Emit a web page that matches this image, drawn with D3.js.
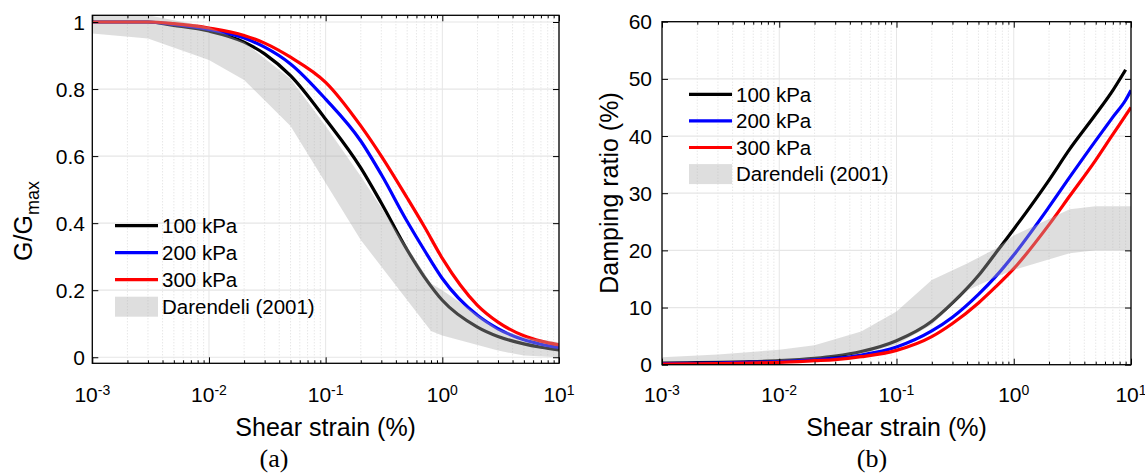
<!DOCTYPE html>
<html><head><meta charset="utf-8">
<script src="https://cdn.jsdelivr.net/npm/d3@7"></script>
<style>
body{margin:0;background:#fff}
svg{display:block}
text{font-family:"Liberation Sans",Arial,Helvetica,sans-serif;fill:#000}
</style>
</head><body>
<svg id="chart" width="1145" height="476"></svg>
<script>
// ---------- data ----------
const strain = [0.001,0.002,0.003,0.005,0.01,0.02,0.03,0.05,0.1,0.2,0.3,0.5,0.7,1,2,3,5,7,10];

// (a) G/Gmax
const gg100 = [1,1,1,0.99,0.973,0.94,0.905,0.84,0.71,0.565,0.46,0.32,0.24,0.17,0.09,0.062,0.04,0.03,0.022];
const gg200 = [1,1,1,0.993,0.978,0.952,0.925,0.875,0.77,0.645,0.545,0.405,0.32,0.235,0.125,0.085,0.052,0.039,0.029];
const gg300 = [1,1,1,0.995,0.982,0.96,0.937,0.895,0.82,0.69,0.60,0.475,0.39,0.295,0.155,0.105,0.064,0.048,0.037];
const bandStrainG = [0.001,0.003,0.01,0.02,0.05,0.1,0.2,0.8,1,3,5,10];
const ggDarLow  = [0.966,0.951,0.887,0.827,0.69,0.52,0.35,0.078,0.065,0.02,0.005,0.0];
const ggDarHigh = [1.03,1.02,0.985,0.94,0.83,0.69,0.54,0.22,0.2,0.085,0.06,0.045];

// (b) Damping ratio (%)
const strainD = [0.001,0.002,0.003,0.005,0.01,0.02,0.03,0.05,0.1,0.2,0.3,0.5,0.7,1,2,3,5,7,9,10];
const d100 = [0.3,0.35,0.4,0.5,0.7,1.1,1.5,2.3,4.2,7.6,10.8,15.6,19.5,23.7,32.3,37.7,43.8,48,51.6,null];
const d200 = [0.2,0.25,0.3,0.4,0.55,0.85,1.1,1.7,3.1,5.9,8.3,12.3,15.4,19.2,27.6,32.8,39.2,43.3,46.3,48];
const d300 = [0.1,0.15,0.2,0.3,0.4,0.7,0.9,1.4,2.5,4.9,7.2,10.8,13.6,16.8,24.5,29.5,35.8,40.3,43.6,45];
const bandStrainD = [0.001,0.003,0.01,0.02,0.05,0.1,0.2,0.4,0.7,1,3,5,10];
const dDarLow  = [0.6,0.65,0.8,1.1,1.9,3.5,7.0,13.0,15.3,16.6,19.5,20,20];
const dDarHigh = [1.3,1.8,2.6,3.4,5.8,9.3,14.8,17.7,20.3,22.6,27.2,27.7,27.7];

const seriesNames = ["100 kPa","200 kPa","300 kPa"];
const seriesColors = ["#000000","#0000ff","#ff0000"];
const bandName = "Darendeli (2001)";

const xMajor = [1e-3,1e-2,1e-1,1,10];
const xMajorExp = ["-3","-2","-1","0","1"];
const ggTicks = [0,0.2,0.4,0.6,0.8,1];
const ggTickLabels = ["0","0.2","0.4","0.6","0.8","1"];
const dTicks = [0,10,20,30,40,50,60];
const dTickLabels = ["0","10","20","30","40","50","60"];

// ---------- drawing ----------
const svg = d3.select("#chart");
const xMinor = [];
for (let e = -3; e < 1; e++) for (let m = 2; m <= 9; m++) xMinor.push(m * Math.pow(10, e));

function panel(cfg) {
  const g = svg.append("g");
  const x = d3.scaleLog().domain([1e-3, 10]).range([cfg.left, cfg.right]);
  const y = d3.scaleLinear().domain(cfg.yDomain).range([cfg.bottom, cfg.top]);
  const clipId = "clip" + cfg.id;
  svg.append("clipPath").attr("id", clipId).append("rect")
    .attr("x", cfg.left).attr("y", cfg.top)
    .attr("width", cfg.right - cfg.left).attr("height", cfg.bottom - cfg.top);

  // grid
  const grid = g.append("g");
  grid.selectAll("line.minor").data(xMinor).join("line")
    .attr("x1", d => x(d)).attr("x2", d => x(d))
    .attr("y1", cfg.top).attr("y2", cfg.bottom)
    .attr("stroke", "#d4d4d4").attr("stroke-width", 0.8).attr("stroke-dasharray", "1,2");
  grid.selectAll("line.majx").data(xMajor).join("line")
    .attr("x1", d => x(d)).attr("x2", d => x(d))
    .attr("y1", cfg.top).attr("y2", cfg.bottom)
    .attr("stroke", "#e6e6e6").attr("stroke-width", 1);
  grid.selectAll("line.majy").data(cfg.yTicks).join("line")
    .attr("x1", cfg.left).attr("x2", cfg.right)
    .attr("y1", d => y(d)).attr("y2", d => y(d))
    .attr("stroke", "#e6e6e6").attr("stroke-width", 1.2);

  const plot = g.append("g").attr("clip-path", `url(#${clipId})`);
  const line = d3.line().defined(d => d[1] != null)
    .x(d => x(d[0])).y(d => y(d[1])).curve(d3.curveMonotoneX);
  cfg.series.forEach((vals, i) => {
    plot.append("path")
      .attr("d", line(cfg.xs.map((s, k) => [s, vals[k]])))
      .attr("fill", "none").attr("stroke", seriesColors[i])
      .attr("stroke-width", 3.2).attr("stroke-linejoin", "round");
  });
  const area = d3.area().x(d => x(d[0])).y0(d => y(d[1])).y1(d => y(d[2]));
  plot.append("path")
    .attr("d", area(cfg.bandXs.map((s, k) => [s, cfg.bandLo[k], cfg.bandHi[k]])))
    .attr("fill", "#acacac").attr("fill-opacity", 0.4);

  // axes (ticks inside, on all four sides)
  const mk = (ax, tr) => {
    const a = g.append("g").attr("transform", tr).call(ax);
    a.select(".domain").remove();
    a.selectAll("text").remove();
    a.selectAll("line").attr("stroke", "#000").attr("stroke-width", 1);
  };
  mk(d3.axisTop(x).tickValues(xMajor).tickSize(6).tickFormat(""), `translate(0,${cfg.bottom})`);
  mk(d3.axisTop(x).tickValues(xMinor).tickSize(3).tickFormat(""), `translate(0,${cfg.bottom})`);
  mk(d3.axisBottom(x).tickValues(xMajor).tickSize(6).tickFormat(""), `translate(0,${cfg.top})`);
  mk(d3.axisBottom(x).tickValues(xMinor).tickSize(3).tickFormat(""), `translate(0,${cfg.top})`);
  mk(d3.axisRight(y).tickValues(cfg.yTicks).tickSize(6).tickFormat(""), `translate(${cfg.left},0)`);
  mk(d3.axisLeft(y).tickValues(cfg.yTicks).tickSize(6).tickFormat(""), `translate(${cfg.right},0)`);
  g.append("rect").attr("x", cfg.left).attr("y", cfg.top)
    .attr("width", cfg.right - cfg.left).attr("height", cfg.bottom - cfg.top)
    .attr("fill", "none").attr("stroke", "#000").attr("stroke-width", 1.3);

  // x tick labels 10^n
  const xl = g.selectAll("text.xt").data(xMajor).join("text")
    .attr("x", d => x(d)).attr("y", 401.5).attr("text-anchor", "middle")
    .style("font-size", "21px");
  xl.append("tspan").text("10");
  xl.append("tspan").text((d, i) => xMajorExp[i]).attr("dy", -7).style("font-size", "14px");

  // y tick labels
  g.selectAll("text.yt").data(cfg.yTicks).join("text")
    .attr("x", cfg.yLabelX).attr("y", d => y(d)).attr("dy", "0.36em")
    .attr("text-anchor", "end").style("font-size", "21px")
    .text((d, i) => cfg.yTickLabels[i]);

  // axis titles
  g.append("text").attr("x", (cfg.left + cfg.right) / 2).attr("y", 436)
    .attr("text-anchor", "middle").style("font-size", "25px").text("Shear strain (%)");
  const yt = g.append("text").attr("transform", `translate(${cfg.titleX},${cfg.titleY}) rotate(-90)`)
    .attr("text-anchor", "middle").style("font-size", "25px");
  cfg.yTitle(yt);

  // sub caption
  g.append("text").attr("x", cfg.capX).attr("y", 467).attr("text-anchor", "middle")
    .style("font-family", "'Liberation Serif','Times New Roman',serif").style("font-size", "26px")
    .text(cfg.caption);

  // legend
  const lg = g.append("g");
  seriesNames.forEach((n, i) => {
    const yy = cfg.legY + i * cfg.legStep;
    lg.append("line").attr("x1", cfg.legX).attr("x2", cfg.legX + 43)
      .attr("y1", yy).attr("y2", yy).attr("stroke", seriesColors[i]).attr("stroke-width", 3.2);
    lg.append("text").attr("x", cfg.legX + 47).attr("y", yy).attr("dy", "0.36em")
      .style("font-size", "20.5px").text(n);
  });
  const yb = cfg.legY + 3 * cfg.legStep;
  lg.append("rect").attr("x", cfg.legX).attr("y", yb - 10).attr("width", 43).attr("height", 20)
    .attr("fill", "#acacac").attr("fill-opacity", 0.4);
  lg.append("text").attr("x", cfg.legX + 47).attr("y", yb).attr("dy", "0.36em")
    .style("font-size", "20.5px").text(bandName);
}

panel({
  id: "a", left: 92.3, right: 559, top: 15.3, bottom: 363.3, yDomain: [-0.018, 1.02],
  xs: strain, series: [gg100, gg200, gg300],
  bandXs: bandStrainG, bandLo: ggDarLow, bandHi: ggDarHigh,
  yTicks: ggTicks, yTickLabels: ggTickLabels, yLabelX: 85,
  titleX: 32, titleY: 221,
  yTitle: t => { t.append("tspan").text("G/G"); t.append("tspan").text("max").attr("dy", 7).style("font-size", "18px"); },
  capX: 274, caption: "(a)",
  legX: 115, legY: 225.7, legStep: 27
});
panel({
  id: "b", left: 662, right: 1131, top: 21.7, bottom: 364.7, yDomain: [0, 60],
  xs: strainD, series: [d100, d200, d300],
  bandXs: bandStrainD, bandLo: dDarLow, bandHi: dDarHigh,
  yTicks: dTicks, yTickLabels: dTickLabels, yLabelX: 652,
  titleX: 618, titleY: 193,
  yTitle: t => t.text("Damping ratio (%)"),
  capX: 872, caption: "(b)",
  legX: 689, legY: 94.3, legStep: 26.6
});
</script>
</body></html>
